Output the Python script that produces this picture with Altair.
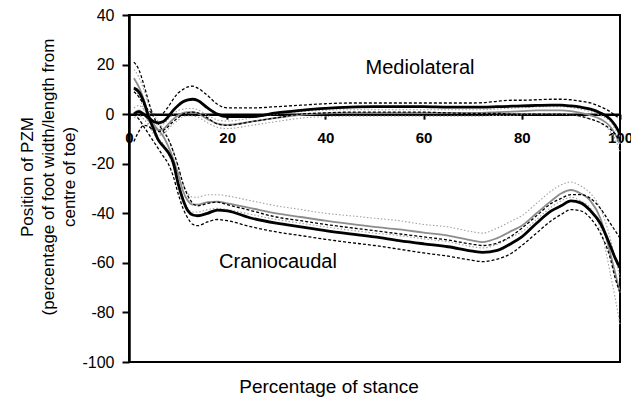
import altair as alt
import pandas as pd

# Percentage of stance (shared x grid)
X = [1, 2, 3, 4, 5, 6, 7, 8, 9, 10, 11, 12, 13, 14, 16, 18, 20, 25, 30, 35, 40,
     45, 50, 55, 60, 65, 70, 72, 75, 78, 80, 83, 86, 88, 90, 92, 94, 96, 98, 99, 100]

# Craniocaudal
cc_black_mean = [10.5, 9, 5, -1, -6, -10.5, -13, -15.5, -19.5, -28, -34.5, -39, -40.7, -41, -40, -38.7, -39,
                 -42, -44, -45.5, -47, -48.3, -49.5, -51, -52.3, -53.5, -55.3, -55.8, -55, -52, -49.5,
                 -44, -39, -37, -35, -35.8, -39, -44, -53, -58, -62]
cc_black_upper = [21, 18, 12, 5, -1, -4, -7, -10, -15, -21, -28, -33, -36, -37, -36, -35.5, -36.5,
                  -39, -41.5, -43, -44.5, -45.8, -47, -48.3, -49.5, -50.8, -52.5, -53, -52, -49, -46,
                  -41, -36, -34, -32.5, -32.5, -34, -38, -44, -47, -50]
cc_black_lower = [0, -2, -5, -8, -11, -14, -17, -20, -25, -32, -38, -42, -44.5, -45, -43.5, -42.5, -43,
                  -45.5, -47.5, -49, -50.5, -51.8, -53, -54.5, -56, -57.3, -59, -59.5, -58.5, -56, -53,
                  -48, -43, -40.5, -38.5, -39, -42, -48, -58, -66, -72]
cc_gray_mean = [14.5, 11, 6, 0, -4, -6.5, -9, -13, -18, -24, -31, -35, -36.5, -36.5, -35.5, -35.3, -36,
                -38, -40, -41.5, -43, -44.3, -45.5, -46.5, -47.8, -49, -51, -51.6, -50, -47, -45,
                -40, -35, -32, -30.6, -32, -35, -42, -56, -64, -72]
cc_gray_upper = [18, 15, 10, 4, 0, -3, -6, -10, -15, -21, -28, -32, -33.5, -33.5, -32.5, -32.5, -33,
                 -35, -37, -38.5, -40, -41, -42, -43, -44.5, -45.5, -47.5, -48, -46, -43, -41,
                 -36, -31, -28.5, -27.4, -29, -32, -38, -50, -58, -66]
cc_gray_lower = [11, 7, 2, -4, -8, -10, -12, -16, -21, -27, -34, -38, -39.5, -39.5, -38.5, -38, -38.5,
                 -40.5, -42.5, -44, -45.5, -46.8, -48, -49, -50.3, -51.5, -53.5, -54, -52.5, -49.5, -47.5,
                 -42.5, -37.5, -35, -33.5, -35, -38, -46, -64, -74, -85]

# Mediolateral
ml_black_mean = [0, 1, 0, -1.5, -3, -3.5, -3, -1, 1.5, 3.5, 5, 5.8, 6, 5.5, 2.5, 0, -1,
                 -1, 0.5, 1.5, 2.3, 2.8, 3, 3, 3, 2.8, 2.8, 2.8, 3, 3.2, 3.3,
                 3.5, 3.6, 3.6, 3.3, 2.8, 2, 0.5, -2, -4.5, -8]
ml_black_upper = [9, 7, 4, 1.5, 0, -0.4, 0.5, 3, 6, 8.5, 10, 11, 11.3, 10.5, 7.5, 4, 2.5,
                  2.5, 3, 3.6, 4.2, 4.5, 4.5, 4.5, 4.5, 4.5, 4.5, 4.6, 5.2, 5.6, 5.6,
                  5.8, 6, 6, 5.8, 5.2, 4.5, 3, 1, -0.5, -2]
ml_black_lower = [-11, -7, -4.5, -5, -6.5, -7, -6.5, -5, -3, -1.5, 0, 0.5, 0.8, 0.5, -1.5, -4, -4.5,
                  -3, -1.5, 0, 0.5, 0.8, 0.8, 0.8, 0.8, 0.5, 0.3, 0.3, 0.3, 0, 0,
                  0, 0, 0, -0.3, -0.8, -2, -3.5, -6, -8, -11]
ml_gray_mean = [0.5, 1.5, 0, -2.5, -5, -6.5, -6, -4, -2, -0.5, 0.5, 0.8, 0.8, 0.3, -2, -3.8, -4.3,
                -3, -1.5, -0.3, 0.3, 0.5, 0.5, 0.5, 0.5, 0.5, 0.5, 0.5, 0.8, 1, 1.2,
                1.5, 1.5, 1.5, 1.2, 0.5, -0.5, -2, -5, -8, -12]
ml_gray_upper = [2.5, 3.5, 2, -0.5, -3, -4.5, -4, -2, 0, 1.5, 2, 2.3, 2.3, 1.8, -0.5, -2.3, -2.8,
                 -1.5, 0, 1, 1.6, 1.8, 1.8, 1.8, 1.8, 1.8, 1.8, 1.8, 2.1, 2.4, 2.6,
                 2.9, 3, 3, 2.7, 2, 1, -0.5, -3, -6, -9]
ml_gray_lower = [-1.5, -0.5, -2, -4.5, -7, -8.5, -8, -6, -4, -2.5, -1, -0.7, -0.7, -1.2, -3.5, -5.3, -5.8,
                 -4.5, -3, -1.6, -1, -0.8, -0.8, -0.8, -0.8, -0.8, -0.8, -0.8, -0.5, -0.4, -0.2,
                 0, 0, 0, -0.3, -1, -2, -3.5, -7, -10, -15]

y_ticks = [-100, -80, -60, -40, -20, 0, 20, 40]
x_ticks = [0, 20, 40, 60, 80, 100]
labels = ["Mediolateral", "Craniocaudal"]
x_title = "Percentage of stance"
y_title = ["Position of PZM", "(percentage of foot width/length from", "centre of toe)"]

series = {
    ("cc_black_mean", "black_mean"): cc_black_mean,
    ("cc_black_upper", "black_sd"): cc_black_upper,
    ("cc_black_lower", "black_sd"): cc_black_lower,
    ("cc_gray_mean", "gray_mean"): cc_gray_mean,
    ("cc_gray_upper", "gray_sd"): cc_gray_upper,
    ("cc_gray_lower", "gray_sd"): cc_gray_lower,
    ("ml_black_mean", "black_mean"): ml_black_mean,
    ("ml_black_upper", "black_sd"): ml_black_upper,
    ("ml_black_lower", "black_sd"): ml_black_lower,
    ("ml_gray_mean", "gray_mean"): ml_gray_mean,
    ("ml_gray_upper", "gray_sd"): ml_gray_upper,
    ("ml_gray_lower", "gray_sd"): ml_gray_lower,
}
rows = []
for (name, style), vals in series.items():
    for xv, yv in zip(X, vals):
        rows.append({"x": xv, "y": yv, "series": name, "style": style})
df = pd.DataFrame(rows)

FONT = "Liberation Sans"
W, H = 491, 347

x_enc = alt.X("x:Q", scale=alt.Scale(domain=[0, 100], nice=False, zero=False),
              axis=alt.Axis(orient="bottom", offset=-(H - H * 40 / 140), values=x_ticks,
                            tickSize=5, tickColor="black", tickWidth=2,
                            labelPadding=11, labelFont=FONT, labelFontSize=15,
                            labelFontWeight="bold", labelColor="black",
                            labelFlush=False, labelOverlap=False, labelBound=False,
                            labelExpr="replace(datum.label, '−', '-')",
                            domainColor="black", domainWidth=2.5,
                            grid=False, title=None))
y_enc = alt.Y("y:Q", scale=alt.Scale(domain=[-100, 40], nice=False, zero=False),
              axis=alt.Axis(values=y_ticks, tickSize=7, tickColor="black", tickWidth=2,
                            labelPadding=8, labelFont=FONT, labelFontSize=16,
                            labelExpr="replace(datum.label, '−', '-')",
                            labelColor="black", domainColor="black", domainWidth=2.5,
                            grid=False, title=None))

base = alt.Chart(df)
styles = [
    ("gray_sd", dict(color="#a0a0a0", strokeWidth=1.1, strokeDash=[1.5, 2])),
    ("gray_mean", dict(color="#8c8c8c", strokeWidth=1.8)),
    ("black_sd", dict(color="black", strokeWidth=1.3, strokeDash=[3, 2])),
    ("black_mean", dict(color="black", strokeWidth=2.8)),
]
layers = []
for st, kw in styles:
    layers.append(
        base.transform_filter(alt.datum.style == st)
        .mark_line(interpolate="monotone", **kw)
        .encode(x=x_enc, y=y_enc, detail="series:N")
    )

def txt(t, px, py, size, angle=0):
    return alt.Chart(pd.DataFrame({"t": [t]})).mark_text(
        font=FONT, fontSize=size, color="black", align="center", baseline="middle", angle=angle
    ).encode(text="t:N", x=alt.value(px), y=alt.value(py))

layers.append(txt(labels[0], 291, 53, 20))
layers.append(txt(labels[1], 149, 247, 20))
layers.append(txt(x_title, 200, 372, 19))
for i, line in enumerate(y_title):
    layers.append(txt(line, -101 + 21 * i, 162, 17, angle=270))

chart = alt.layer(*layers).properties(
    width=W, height=H,
    autosize=alt.AutoSizeParams(type="none"),
    padding={"left": 129, "top": 15, "right": 11, "bottom": 43},
    background="white",
).configure_view(stroke="black", strokeWidth=2)

chart.save("out.html", embed_options={"renderer": "svg", "actions": False})
